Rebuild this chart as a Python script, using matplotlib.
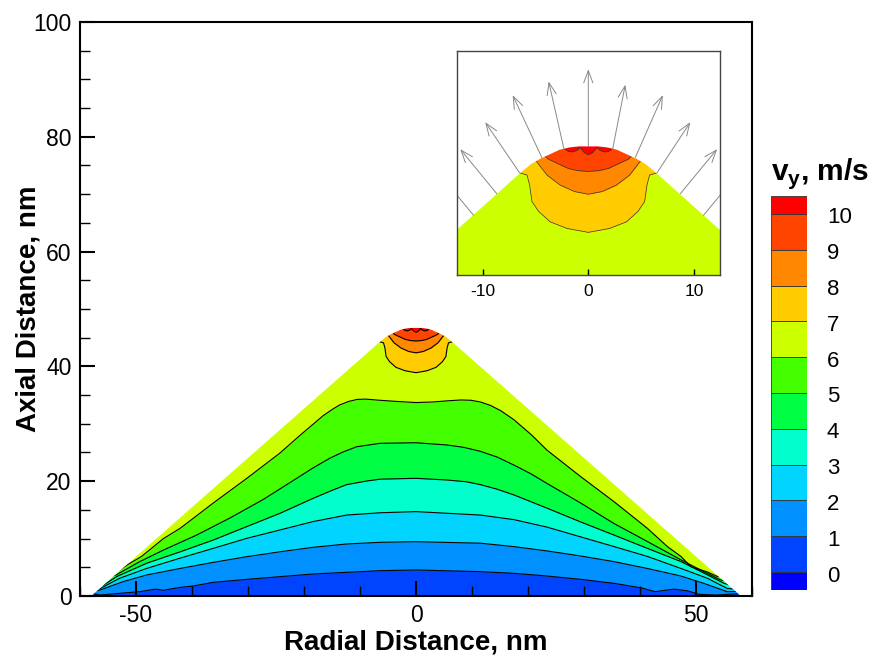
import numpy as np
import matplotlib.pyplot as plt
from matplotlib.patches import Polygon, FancyArrowPatch
from matplotlib.ticker import MultipleLocator

plt.rcParams['font.family'] = ['Liberation Sans', 'DejaVu Sans']
plt.rcParams['axes.unicode_minus'] = False
plt.rcParams['mathtext.fontset'] = 'custom'
plt.rcParams['mathtext.bf'] = 'Liberation Sans:bold'
plt.rcParams['mathtext.rm'] = 'Liberation Sans'

# cone outline (radial, axial), nm
cone_r = [-58.0, -6.3, -5.4, -4.5, -3.6, -2.7, -1.8, -0.9, 0.0, 0.9, 1.8, 2.7, 3.6, 4.5, 5.4, 6.3, 58.0]
cone_z = [0.0, 44.4, 45.1, 45.6, 46.0, 46.4, 46.6, 46.7, 46.7, 46.7, 46.6, 46.4, 46.0, 45.6, 45.1, 44.4, 0.0]

# contour lines v_y = 1 ... 10 m/s
lv1_x = [-57.7, -56.4, -52.9, -49.3, -46.5, -45.1, -42.1, -39.8, -36.2, -30.2, -24.3, -18.4, -12.4, -6.4, 0.0,
         11.5, 17.5, 23.4, 29.4, 35.4, 40.3, 42.7, 46.0, 48.5, 50.5, 53.5, 57.7]
lv1_y = [0.4, 0.17, 0.47, 0.76, 1.2, 1.0, 1.5, 1.74, 2.38, 2.9, 3.37, 3.83, 4.12, 4.41, 4.53,
         4.24, 3.95, 3.48, 2.9, 2.2, 1.4, 0.75, 1.2, 0.9, 0.3, 0.17, 0.4]
lv2_x = [-57.3, -56.4, -52.3, -48.1, -42.1, -36.2, -30.2, -24.3, -18.4, -12.4, -6.4, 0.0,
         11.5, 17.5, 23.4, 29.4, 35.4, 41.3, 47.3, 51.4, 55.6, 57.3]
lv2_y = [0.9, 1.05, 2.5, 3.66, 4.8, 5.86, 6.85, 7.7, 8.48, 9.06, 9.35, 9.46,
         9.2, 8.6, 7.85, 6.97, 5.98, 4.8, 3.48, 2.2, 0.75, 0.8]
lv3_x = [-57.0, -56.4, -52.9, -48.1, -42.1, -36.2, -30.2, -24.3, -18.4, -12.4, -6.4, 0.0,
         11.5, 17.5, 23.4, 29.4, 35.4, 41.3, 47.3, 52.0, 55.6, 56.4, 57.0]
lv3_y = [1.2, 1.3, 3.1, 4.8, 6.6, 8.3, 10.05, 11.5, 12.96, 14.1, 14.5, 14.7,
         14.1, 13.3, 12.0, 10.3, 8.6, 6.9, 4.8, 3.1, 1.3, 1.25, 1.2]
lv4_x = [-56.3, -55.8, -53.4, -48.1, -42.1, -36.2, -30.2, -24.3, -18.4, -15.0, -12.4, -9.0, -6.4, 0.0,
         5.6, 9.0, 11.5, 14.5, 17.5, 23.4, 29.4, 35.4, 41.3, 47.3, 52.0, 55.0, 55.8]
lv4_y = [1.8, 1.9, 3.4, 5.7, 7.7, 9.75, 12.1, 14.4, 17.0, 18.4, 19.4, 20.0, 20.35, 20.5,
         20.2, 19.9, 19.4, 18.6, 17.6, 15.3, 12.9, 10.6, 8.3, 6.0, 3.7, 2.2, 2.0]
lv5_x = [-54.5, -53.5, -49.3, -45.1, -39.2, -33.2, -27.3, -21.3, -18.4, -15.4, -13.0, -10.6, -6.4, 0.0,
         5.6, 8.5, 11.5, 14.5, 17.5, 20.5, 23.4, 29.4, 35.4, 41.3, 47.3, 52.0, 54.4, 55.0]
lv5_y = [3.4, 3.7, 6.0, 8.0, 10.6, 13.6, 16.8, 20.5, 22.3, 24.0, 25.1, 26.0, 26.6, 26.7,
         26.3, 25.9, 25.2, 24.2, 22.8, 21.3, 19.6, 16.2, 12.6, 9.5, 6.3, 3.95, 2.8, 2.7]
lv6_x = [-54.0, -53.4, -51.6, -49.0, -45.1, -42.1, -36.2, -30.2, -24.3, -20.7, -18.4, -16.6, -14.8, -13.6,
         -12.0, -10.5, -9.0, -6.5, -3.5, 0.0, 3.0, 5.6, 8.0, 9.8, 11.5, 13.3, 15.1, 17.5, 20.7, 23.4,
         29.4, 35.4, 41.3, 44.9, 47.3, 49.1, 52.0, 53.8, 54.4]
lv6_y = [4.6, 4.2, 5.4, 6.9, 10.0, 11.8, 16.2, 20.5, 24.9, 28.0, 29.9, 31.4, 32.6, 33.3,
         33.9, 34.25, 34.3, 34.1, 33.9, 33.7, 33.8, 34.0, 34.15, 34.1, 33.8, 33.2, 32.3, 30.7, 28.0, 25.4,
         20.8, 16.4, 11.8, 8.6, 6.9, 5.1, 4.2, 3.4, 3.6]
lv7_x = [-6.7, -6.5, -5.8, -5.55, -5.33, -4.7, -3.6, -2.0, 0.0, 2.0, 3.6, 4.7, 5.33, 5.55, 5.8, 6.5, 6.7]
lv7_y = [44.6, 44.3, 44.1, 43.2, 41.7, 40.8, 39.85, 39.25, 38.9, 39.25, 39.85, 40.8, 41.7, 43.2, 44.1, 44.3, 44.6]
lv8_x = [-5.2, -4.92, -4.42, -3.9, -2.65, -1.3, 0.0, 1.3, 2.65, 3.9, 4.42, 4.92, 5.2]
lv8_y = [45.5, 45.36, 44.73, 44.09, 43.18, 42.6, 42.36, 42.6, 43.18, 44.09, 44.73, 45.36, 45.5]
lv9_x = [-4.3, -4.1, -3.8, -2.8, -1.9, -1.0, 0.0, 1.0, 1.9, 2.8, 3.8, 4.1, 4.3]
lv9_y = [46.0, 45.85, 45.55, 45.1, 44.7, 44.5, 44.43, 44.5, 44.7, 45.1, 45.55, 45.85, 46.0]
lv10_x = [-2.5, -2.2, -1.9, -1.5, -1.1, -0.8, -0.4, 0.0, 0.4, 0.8, 1.1, 1.5, 1.9, 2.2, 2.5]
lv10_y = [46.7, 46.45, 46.25, 46.2, 46.35, 46.6, 46.15, 45.95, 46.15, 46.6, 46.35, 46.2, 46.25, 46.45, 46.7]

# velocity vectors in the zoomed view
arrow_r0 = [0.0, 2.3, -2.3, 4.45, -4.4, 6.5, -6.5, 8.7, -8.65, 10.9, -10.85]
arrow_z0 = [46.7, 46.45, 46.45, 45.7, 45.7, 44.3, 44.3, 42.4, 42.4, 40.45, 40.45]
arrow_dr = [0.0, 1.2, -1.45, 2.6, -2.75, 3.15, -3.25, 3.48, -3.46, 3.5, -3.5]
arrow_dz = [7.0, 5.85, 6.15, 5.65, 5.65, 4.6, 4.6, 4.05, 4.05, 4.05, 4.05]

levels = list(range(11))
band_colors = ['#0000ff', '#0044ff', '#0090ff', '#00d4ff', '#00ffcc', '#00ff44',
               '#44ff00', '#ccff00', '#ffcc00', '#ff8800', '#ff4400', '#ff0000']
contours = [(lv1_x, lv1_y), (lv2_x, lv2_y), (lv3_x, lv3_y), (lv4_x, lv4_y), (lv5_x, lv5_y),
            (lv6_x, lv6_y), (lv7_x, lv7_y), (lv8_x, lv8_y), (lv9_x, lv9_y), (lv10_x, lv10_y)]


def draw_field(ax, lw, lc):
    ax.add_patch(Polygon(np.column_stack([cone_r, cone_z]), facecolor=band_colors[1],
                         edgecolor='none', zorder=1))
    for k, (lx, ly) in enumerate(contours, start=1):
        ax.fill_between(lx, ly, 60, color=band_colors[k + 1], lw=0, zorder=1)
        ax.plot(lx, ly, color=lc, lw=lw, zorder=1.2)
    # white mask outside the cone
    mx = np.concatenate([[-61], cone_r, [61, 61, -61]])
    my = np.concatenate([[0], cone_z, [0, 101, 101]])
    ax.add_patch(Polygon(np.column_stack([mx, my]), facecolor='white', edgecolor='none', zorder=1.5))


fig = plt.figure(figsize=(8.77, 6.62), dpi=100)

# main plot
ax = fig.add_axes([0.0912, 0.0997, 0.7663, 0.8671])
draw_field(ax, 0.8, 'black')
ax.set_xlim(-60, 60)
ax.set_ylim(0, 100)
ax.set_xticks([-50, 0, 50])
ax.set_xticklabels(['-50', '0', '50'])
ax.set_yticks([0, 20, 40, 60, 80, 100])
ax.xaxis.set_minor_locator(MultipleLocator(10))
ax.yaxis.set_minor_locator(MultipleLocator(5))
ax.tick_params(which='major', direction='in', length=11, width=1.5, labelsize=16.5, pad=6)
ax.tick_params(which='minor', direction='in', length=7, width=1.0)
for s in ax.spines.values():
    s.set_linewidth(1.5)
ax.set_xlabel('Radial Distance, nm', fontsize=20, fontweight='bold')
ax.set_ylabel('Axial Distance, nm', fontsize=20, fontweight='bold')
ax.xaxis.set_label_coords(0.5, -0.058)
ax.yaxis.set_label_coords(-0.058, 0.5)

# zoomed inset of the tip
axin = fig.add_axes([0.5207, 0.5841, 0.3008, 0.3396])
draw_field(axin, 0.5, '#333333')
for r0, z0, dr, dz in zip(arrow_r0, arrow_z0, arrow_dr, arrow_dz):
    axin.add_patch(FancyArrowPatch((r0, z0), (r0 + dr, z0 + dz),
                                   arrowstyle='->,head_length=0.4,head_width=0.15',
                                   mutation_scale=22, color='#888888', lw=0.7,
                                   shrinkA=0, shrinkB=0, zorder=2))
axin.set_xlim(-12.45, 12.5)
axin.set_ylim(35.0, 55.4)
axin.set_xticks([-10, 0, 10])
axin.set_xticklabels(['-10', '0', '10'])
axin.set_yticks([])
axin.tick_params(direction='in', length=4.5, width=1.0, labelsize=12.5, pad=6)
for s in axin.spines.values():
    s.set_linewidth(1.0)
    s.set_color('#444444')

# legend bar
cax = fig.add_axes([771 / 877, 72 / 662, 36 / 877, 394 / 662])
cb_edges = [-0.5] + levels + [10.5]
cax.bar(0.5, np.diff(cb_edges), bottom=cb_edges[:-1], width=1, color=band_colors,
        edgecolor='#333333', lw=0.6)
cax.set_xlim(0, 1)
cax.set_ylim(-0.5, 10.5)
cax.axis('off')
for lev in levels:
    cax.text(1.55, lev - 0.11, str(lev), transform=cax.get_yaxis_transform(),
             fontsize=16, va='center', ha='left')
fig.text(0.879, 0.728, r'$\mathbf{v}_\mathbf{y}$, m/s', fontsize=21.5, fontweight='bold',
         va='baseline', ha='left')

fig.savefig('out.png', dpi=100)
